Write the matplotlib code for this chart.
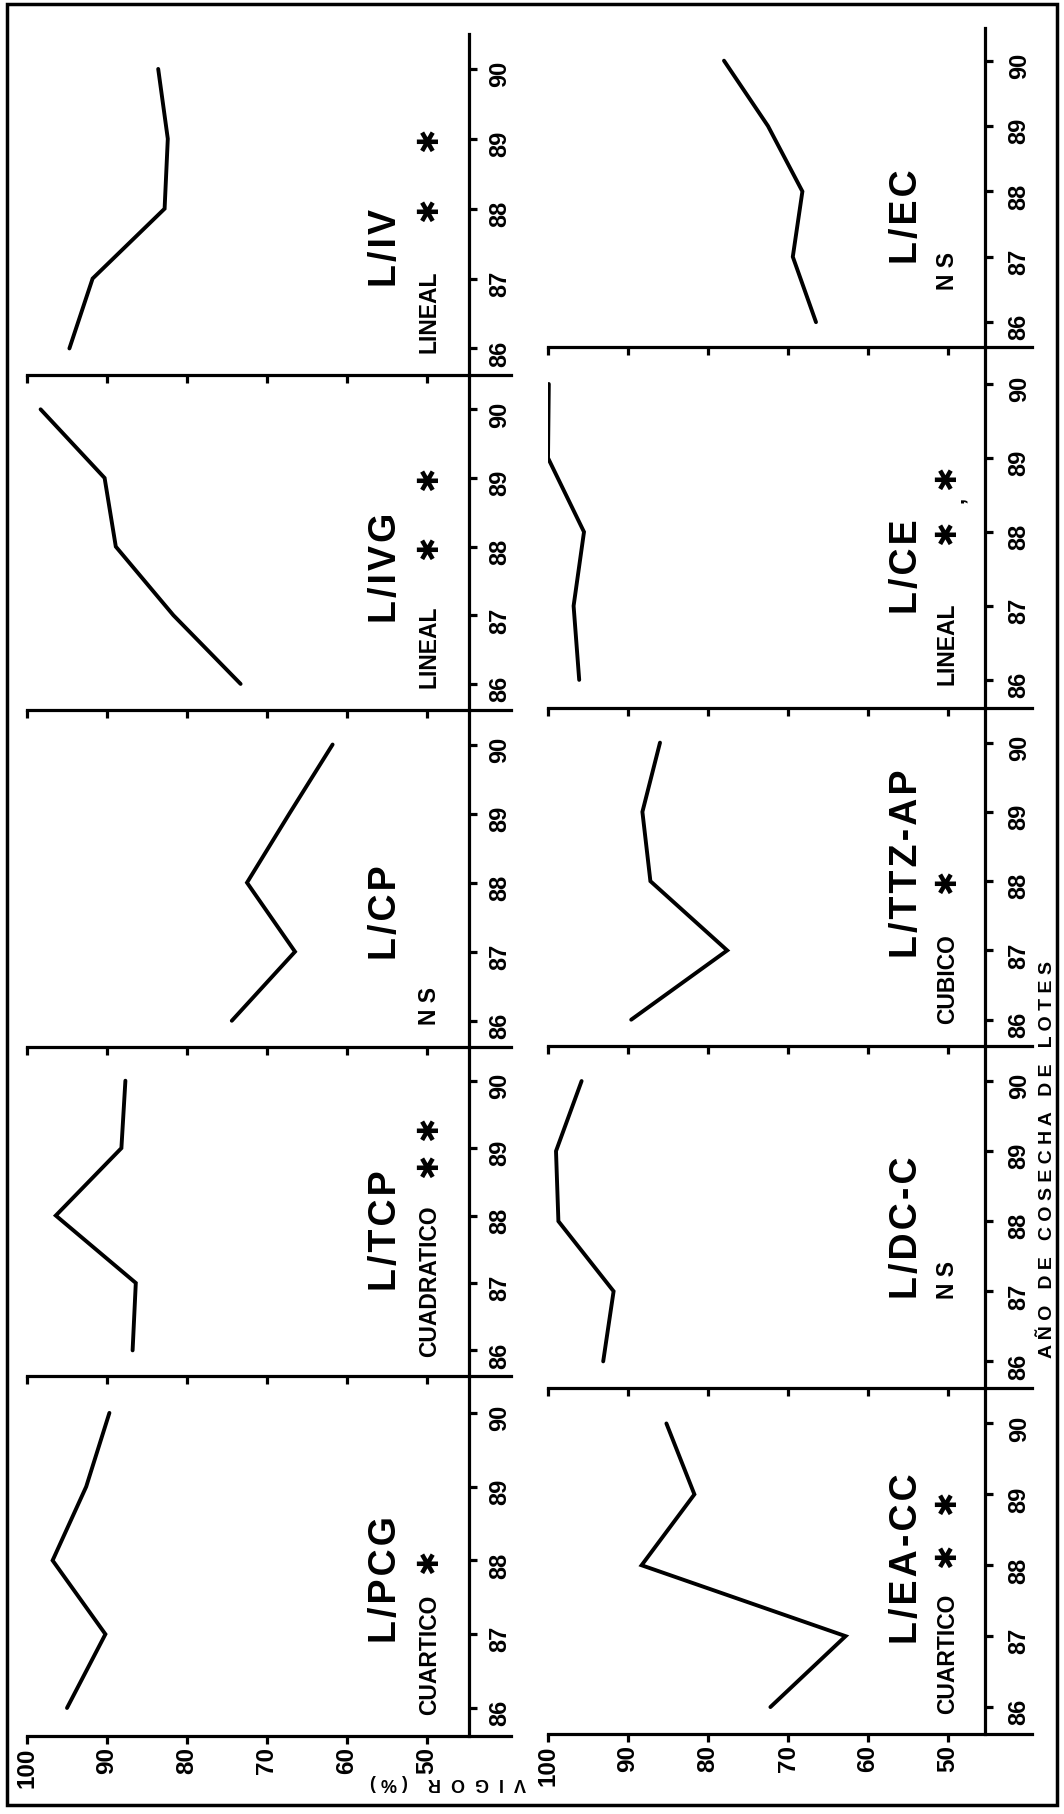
import matplotlib
import matplotlib.pyplot as plt
from matplotlib.patches import Rectangle

matplotlib.use("Agg")

# data
YEARS = [86, 87, 88, 89, 90]
VIGOR_TICKS = [50, 60, 70, 80, 90, 100]

vigor_pcg = [95.0, 90.2, 96.8, 92.6, 89.7]
vigor_tcp = [86.8, 86.4, 96.4, 88.2, 87.7]
vigor_cp = [74.4, 66.5, 72.5, 67.2, 61.8]
vigor_ivg = [73.3, 81.7, 88.9, 90.3, 98.3]
vigor_iv = [94.7, 91.8, 82.8, 82.4, 83.6]
vigor_eacc = [72.2, 62.8, 88.3, 81.7, 85.2]
vigor_dcc = [93.1, 91.8, 98.7, 99.0, 95.8]
vigor_ttzap = [89.6, 77.6, 87.2, 88.2, 86.0]
vigor_ce = [96.1, 96.8, 95.5, 100.0, 99.9]
vigor_ec = [66.5, 69.4, 68.2, 72.5, 78.0]

PANEL_NAMES = ["L/PCG", "L/TCP", "L/CP", "L/IVG", "L/IV",
               "L/EA-CC", "L/DC-C", "L/TTZ-AP", "L/CE", "L/EC"]
FIT_TYPES = ["CUARTICO", "CUADRATICO", "N S", "LINEAL", "LINEAL",
             "CUARTICO", "N S", "CUBICO", "LINEAL", "N S"]
STAR_YEARS = [[88.0], [88.75, 89.3], [], [88.0, 89.0], [88.0, 89.0],
              [88.15, 88.9], [], [88.0], [88.0, 88.75], []]
SERIES = [vigor_pcg, vigor_tcp, vigor_cp, vigor_ivg, vigor_iv,
          vigor_eacc, vigor_dcc, vigor_ttzap, vigor_ce, vigor_ec]

# layout in pixels (figure is drawn turned on its side, like the scan)
W, H = 1064, 1815
AX_W = 484
COL_X = [27, 548]
YEAR_SPINE = [44.7, 45.4]
YEAR_PAD = [8, 11]
TITLE_X = [55.1, 55.1]
FIT_X = [49.7, 50.1]
ROWS = [
    [(1377, 1737), (1048, 1377), (711, 1048), (376, 711), (35, 376)],
    [(1389, 1735), (1047, 1389), (709, 1047), (348, 709), (29, 348)],
]
FIT_START = [85.92, 85.92, 85.95, 85.95, 85.95, 85.92, 86.9, 85.95, 85.95, 86.5]

plt.rcParams["font.family"] = ["Liberation Sans", "DejaVu Sans"]

fig = plt.figure(figsize=(W / 100, H / 100), dpi=100)

for col in range(2):
    for row in range(5):
        i = col * 5 + row
        top, bottom = ROWS[col][row]
        ax = fig.add_axes([COL_X[col] / W, 1 - bottom / H,
                           AX_W / W, (bottom - top) / H])
        ax.set_xlim(100, 39.5)
        ax.set_ylim(85.62, 90.5)

        ax.plot(SERIES[i], YEARS, color="black", lw=2.8,
                solid_joinstyle="miter", solid_capstyle="round")

        ax.spines["top"].set_visible(False)
        ax.spines["left"].set_visible(False)
        ax.spines["right"].set_position(("data", YEAR_SPINE[col]))
        for side in ("right", "bottom"):
            ax.spines[side].set_linewidth(2.3)

        ax.yaxis.set_ticks_position("right")
        ax.set_yticks(YEARS)
        ax.set_yticklabels([str(y) for y in YEARS], rotation=90,
                           fontsize=17, fontweight="bold")
        ax.tick_params(axis="y", direction="out", length=5.5, width=2.3,
                       pad=YEAR_PAD[col])

        ax.set_xticks(VIGOR_TICKS)
        ax.set_xticklabels([str(v) for v in VIGOR_TICKS], rotation=90,
                           fontsize=17.5, fontweight="bold")
        ax.tick_params(axis="x", direction="out", length=5.5, width=2.3, pad=2,
                       labelbottom=(row == 0))

        ax.text(TITLE_X[col], 86.9, "\u200a".join(PANEL_NAMES[i]), rotation=90,
                rotation_mode="anchor", ha="left", va="center",
                fontsize=27, fontweight="bold")
        ax.text(FIT_X[col], FIT_START[i], FIT_TYPES[i], rotation=90,
                rotation_mode="anchor", ha="left", va="center",
                fontsize=16.5, fontweight="bold")
        for yr in STAR_YEARS[i]:
            ax.text(FIT_X[col], yr, "\u2731", rotation=90, family="DejaVu Sans",
                    rotation_mode="anchor", ha="center", va="center",
                    fontsize=21)
        if PANEL_NAMES[i] == "L/CE":
            ax.text(FIT_X[col] - 1.3, 88.45, ",", rotation=90,
                    rotation_mode="anchor", ha="center", va="center",
                    fontsize=16, fontweight="bold")

fig.text(448 / W, 1 - 1783 / H, "V  I  G  O  R    ( % )", rotation=180,
         ha="center", va="center", fontsize=13, fontweight="bold")
fig.text(1047 / W, 1 - 1160 / H, "A Ñ O   D E   C O S E C H A   D E   L O T E S",
         rotation=90, ha="center", va="center", fontsize=14, fontweight="bold")

fig.add_artist(Rectangle((7 / W, 1 - 1806 / H), (1057 - 7) / W, (1806 - 5) / H,
                         transform=fig.transFigure, fill=False, lw=2.5,
                         edgecolor="black"))

fig.savefig("out.png", dpi=100)
